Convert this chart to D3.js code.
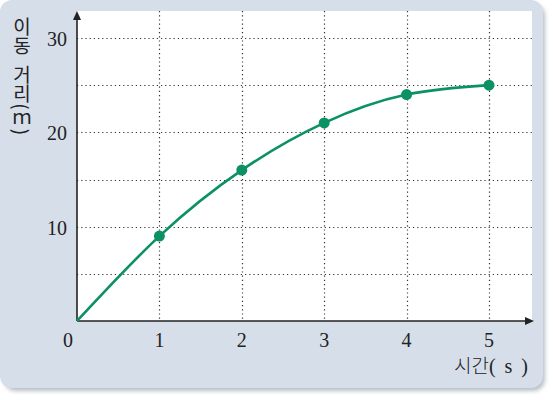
<!DOCTYPE html>
<html>
<head>
<meta charset="utf-8">
<script src="https://cdn.jsdelivr.net/npm/d3@7"></script>
<style>
  body { margin: 0; background: #fff; }
  svg { display: block; }
</style>
</head>
<body>
<div id="chart"></div>
<script>
// data
const times = [0, 1, 2, 3, 4, 5];
const distances = [0, 9, 16, 21, 24, 25];
const xTicks = [1, 2, 3, 4, 5];
const yTicks = [10, 20, 30];
const yGrid = [5, 10, 15, 20, 25, 30];

const width = 553, height = 400;
const green = '#0b9163';
const ink = '#222';
const serif = '"Liberation Serif", "DejaVu Serif", serif';
const sans = '"Noto Sans CJK KR", "Noto Sans", sans-serif';

const svg = d3.select('#chart')
  .append('svg')
  .attr('width', width)
  .attr('height', height);

const defs = svg.append('defs');
const blur = defs.append('filter').attr('id', 'shadow')
  .attr('x', '-5%').attr('y', '-5%').attr('width', '115%').attr('height', '115%');
blur.append('feGaussianBlur').attr('stdDeviation', 2);

// panel + shadow
svg.append('rect')
  .attr('x', 4).attr('y', 4)
  .attr('width', 541).attr('height', 387)
  .attr('rx', 12)
  .attr('fill', '#b9bec6')
  .attr('filter', 'url(#shadow)');
svg.append('rect')
  .attr('x', 0).attr('y', 0)
  .attr('width', 543).attr('height', 388)
  .attr('rx', 12)
  .attr('fill', '#d6dee9');

const x = d3.scaleLinear().domain([0, 5]).range([77, 489]);
const y = d3.scaleLinear().domain([0, 30]).range([321, 38]);
const plotRight = 532, plotTop = 11;

// plot area
svg.append('rect')
  .attr('x', x(0)).attr('y', plotTop)
  .attr('width', plotRight - x(0)).attr('height', y(0) - plotTop)
  .attr('fill', '#fff');

// grid
const grid = svg.append('g')
  .attr('stroke', '#333')
  .attr('stroke-width', 1.2)
  .attr('stroke-dasharray', '1.2,3');
grid.selectAll('.vg').data(xTicks).enter().append('line')
  .attr('x1', d => Math.round(x(d)) + 0.5).attr('x2', d => Math.round(x(d)) + 0.5)
  .attr('y1', plotTop).attr('y2', y(0));
grid.selectAll('.hg').data(yGrid).enter().append('line')
  .attr('y1', d => Math.round(y(d)) + 0.5).attr('y2', d => Math.round(y(d)) + 0.5)
  .attr('x1', x(0)).attr('x2', plotRight);

// axes with arrows
const axes = svg.append('g').attr('stroke', ink).attr('stroke-width', 1.6);
axes.append('line').attr('x1', x(0)).attr('x2', plotRight - 4).attr('y1', y(0)).attr('y2', y(0));
axes.append('line').attr('x1', x(0)).attr('x2', x(0)).attr('y1', y(0)).attr('y2', plotTop + 4);
svg.append('path')
  .attr('d', `M${plotRight + 2},${y(0)} l-9,-4 l0,8 z`)
  .attr('fill', ink);
svg.append('path')
  .attr('d', `M${x(0)},${plotTop} l-4,9 l8,0 z`)
  .attr('fill', ink);

// curve
const pts = times.map((t, i) => [t, distances[i]]);
const line = d3.line()
  .x(d => x(d[0]))
  .y(d => y(d[1]))
  .curve(d3.curveNatural);
svg.append('path')
  .datum(pts)
  .attr('d', line)
  .attr('fill', 'none')
  .attr('stroke', green)
  .attr('stroke-width', 2.6);

svg.selectAll('.dot')
  .data(pts.filter(d => d[0] > 0))
  .enter().append('circle')
  .attr('cx', d => x(d[0]))
  .attr('cy', d => y(d[1]))
  .attr('r', 5.5)
  .attr('fill', green);

// tick labels
svg.selectAll('.xt').data(xTicks).enter().append('text')
  .attr('x', d => x(d)).attr('y', 347)
  .attr('text-anchor', 'middle')
  .attr('font-family', serif).attr('font-size', 20)
  .attr('fill', ink)
  .text(d => d);
svg.append('text')
  .attr('x', 68).attr('y', 347)
  .attr('text-anchor', 'middle')
  .attr('font-family', serif).attr('font-size', 20)
  .attr('fill', ink)
  .text('0');
svg.selectAll('.yt').data(yTicks).enter().append('text')
  .attr('x', 67).attr('y', d => y(d) + 8)
  .attr('text-anchor', 'end')
  .attr('font-family', serif).attr('font-size', 20)
  .attr('fill', ink)
  .text(d => d);

// y label, vertical writing (brackets turn sideways, letters stay upright)
svg.append('text')
  .attr('x', 22).attr('y', 17)
  .style('writing-mode', 'vertical-rl')
  .style('text-orientation', 'mixed')
  .style('word-spacing', '6px')
  .attr('font-family', sans)
  .attr('font-size', 19)
  .attr('fill', ink)
  .text('이동 거리(ｍ)');

// x label
const xl = svg.append('text')
  .attr('x', 530).attr('y', 373)
  .attr('text-anchor', 'end')
  .attr('fill', ink)
  .attr('font-size', 19);
xl.append('tspan').attr('font-family', sans).attr('font-weight', 300).text('시간');
xl.append('tspan').attr('font-family', serif).attr('font-size', 20)
  .attr('letter-spacing', 2).text('( s )');
</script>
</body>
</html>
